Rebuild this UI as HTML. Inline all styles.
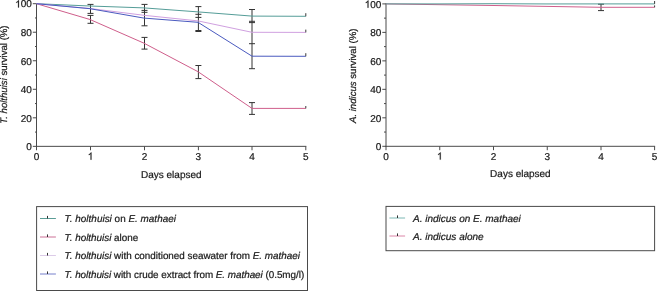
<!DOCTYPE html>
<html><head><meta charset="utf-8"><style>
html,body{margin:0;padding:0;background:#fff;width:657px;height:291px;overflow:hidden}
svg{display:block;will-change:transform}
text{text-rendering:geometricPrecision;stroke:#1a1a1a;stroke-width:0.22px}
.t{font-size:10px;font-family:'Liberation Sans',sans-serif;fill:#1a1a1a}
.ty{font-size:9.6px;font-family:'Liberation Sans',sans-serif;fill:#1a1a1a}
.tl{font-size:9.87px;font-family:'Liberation Sans',sans-serif;fill:#1a1a1a}
</style></head><body>
<svg width="657" height="291" viewBox="0 0 657 291">
<rect width="657" height="291" fill="#fff"/>
<line x1="36.5" y1="3.2" x2="36.5" y2="146.85" stroke="#4a4a4a" stroke-width="1"/>
<line x1="36.0" y1="146.35" x2="306.30" y2="146.35" stroke="#4a4a4a" stroke-width="1"/>
<line x1="32.80" y1="3.70" x2="36.5" y2="3.70" stroke="#4a4a4a" stroke-width="1"/>
<line x1="35" y1="17.96" x2="36.5" y2="17.96" stroke="#4a4a4a" stroke-width="1"/>
<path d="M763 0H583V1147Q518 1085 412 1023Q306 961 222 930V1104Q373 1175 486 1276Q599 1377 646 1472H763Z" transform="translate(15.22,7.45) scale(0.004883,-0.004883)" fill="#1a1a1a" stroke="#1a1a1a" stroke-width="0.22" vector-effect="non-scaling-stroke"/><text x="20.78" y="7.45" class="t">0</text><text x="26.34" y="7.45" class="t">0</text>
<line x1="32.80" y1="32.23" x2="36.5" y2="32.23" stroke="#4a4a4a" stroke-width="1"/>
<line x1="35" y1="46.50" x2="36.5" y2="46.50" stroke="#4a4a4a" stroke-width="1"/>
<text x="20.78" y="35.98" class="t">8</text><text x="26.34" y="35.98" class="t">0</text>
<line x1="32.80" y1="60.76" x2="36.5" y2="60.76" stroke="#4a4a4a" stroke-width="1"/>
<line x1="35" y1="75.03" x2="36.5" y2="75.03" stroke="#4a4a4a" stroke-width="1"/>
<text x="20.78" y="64.51" class="t">6</text><text x="26.34" y="64.51" class="t">0</text>
<line x1="32.80" y1="89.29" x2="36.5" y2="89.29" stroke="#4a4a4a" stroke-width="1"/>
<line x1="35" y1="103.56" x2="36.5" y2="103.56" stroke="#4a4a4a" stroke-width="1"/>
<text x="20.78" y="93.04" class="t">4</text><text x="26.34" y="93.04" class="t">0</text>
<line x1="32.80" y1="117.82" x2="36.5" y2="117.82" stroke="#4a4a4a" stroke-width="1"/>
<line x1="35" y1="132.09" x2="36.5" y2="132.09" stroke="#4a4a4a" stroke-width="1"/>
<text x="20.78" y="121.57" class="t">2</text><text x="26.34" y="121.57" class="t">0</text>
<line x1="32.80" y1="146.35" x2="36.5" y2="146.35" stroke="#4a4a4a" stroke-width="1"/>
<text x="26.34" y="150.10" class="t">0</text>
<line x1="36.50" y1="146.35" x2="36.50" y2="150.25" stroke="#4a4a4a" stroke-width="1"/>
<text x="33.72" y="159.65" class="t">0</text>
<line x1="90.50" y1="146.35" x2="90.50" y2="150.25" stroke="#4a4a4a" stroke-width="1"/>
<path d="M763 0H583V1147Q518 1085 412 1023Q306 961 222 930V1104Q373 1175 486 1276Q599 1377 646 1472H763Z" transform="translate(87.72,159.65) scale(0.004883,-0.004883)" fill="#1a1a1a" stroke="#1a1a1a" stroke-width="0.22" vector-effect="non-scaling-stroke"/>
<line x1="144.50" y1="146.35" x2="144.50" y2="150.25" stroke="#4a4a4a" stroke-width="1"/>
<text x="141.72" y="159.65" class="t">2</text>
<line x1="198.40" y1="146.35" x2="198.40" y2="150.25" stroke="#4a4a4a" stroke-width="1"/>
<text x="195.62" y="159.65" class="t">3</text>
<line x1="252.00" y1="146.35" x2="252.00" y2="150.25" stroke="#4a4a4a" stroke-width="1"/>
<text x="249.22" y="159.65" class="t">4</text>
<line x1="305.80" y1="146.35" x2="305.80" y2="150.25" stroke="#4a4a4a" stroke-width="1"/>
<text x="303.02" y="159.65" class="t">5</text>
<text x="171.30" y="178.3" text-anchor="middle" class="t">Days elapsed</text>
<text transform="translate(7.2,74.6) rotate(-90)" text-anchor="middle" class="ty"><tspan font-style="italic">T. holthuisi</tspan> survival (%)</text>
<line x1="90.50" y1="4.4" x2="90.50" y2="13.4" stroke="#333333" stroke-width="1"/>
<line x1="87.50" y1="4.4" x2="93.50" y2="4.4" stroke="#333333" stroke-width="1"/>
<line x1="87.50" y1="13.4" x2="93.50" y2="13.4" stroke="#333333" stroke-width="1"/>
<line x1="90.50" y1="15.4" x2="90.50" y2="23.3" stroke="#333333" stroke-width="1"/>
<line x1="87.50" y1="15.4" x2="93.50" y2="15.4" stroke="#333333" stroke-width="1"/>
<line x1="87.50" y1="23.3" x2="93.50" y2="23.3" stroke="#333333" stroke-width="1"/>
<line x1="144.50" y1="4.4" x2="144.50" y2="25.8" stroke="#333333" stroke-width="1"/>
<line x1="141.50" y1="4.4" x2="147.50" y2="4.4" stroke="#333333" stroke-width="1"/>
<line x1="141.50" y1="10.4" x2="147.50" y2="10.4" stroke="#333333" stroke-width="1"/>
<line x1="141.50" y1="12.3" x2="147.50" y2="12.3" stroke="#333333" stroke-width="1"/>
<line x1="141.50" y1="25.8" x2="147.50" y2="25.8" stroke="#333333" stroke-width="1"/>
<line x1="144.50" y1="37.4" x2="144.50" y2="49.1" stroke="#333333" stroke-width="1"/>
<line x1="141.50" y1="37.4" x2="147.50" y2="37.4" stroke="#333333" stroke-width="1"/>
<line x1="141.50" y1="49.1" x2="147.50" y2="49.1" stroke="#333333" stroke-width="1"/>
<line x1="198.40" y1="6.6" x2="198.40" y2="31.2" stroke="#333333" stroke-width="1"/>
<line x1="195.40" y1="6.6" x2="201.40" y2="6.6" stroke="#333333" stroke-width="1"/>
<line x1="195.40" y1="14.3" x2="201.40" y2="14.3" stroke="#333333" stroke-width="1"/>
<line x1="195.40" y1="17.4" x2="201.40" y2="17.4" stroke="#333333" stroke-width="1"/>
<line x1="195.40" y1="30.5" x2="201.40" y2="30.5" stroke="#333333" stroke-width="1"/>
<line x1="195.40" y1="31.5" x2="201.40" y2="31.5" stroke="#333333" stroke-width="1"/>
<line x1="198.40" y1="65.5" x2="198.40" y2="78.6" stroke="#333333" stroke-width="1"/>
<line x1="195.40" y1="65.5" x2="201.40" y2="65.5" stroke="#333333" stroke-width="1"/>
<line x1="195.40" y1="78.6" x2="201.40" y2="78.6" stroke="#333333" stroke-width="1"/>
<line x1="252.00" y1="9.5" x2="252.00" y2="68.7" stroke="#333333" stroke-width="1"/>
<line x1="249.00" y1="9.5" x2="255.00" y2="9.5" stroke="#333333" stroke-width="1"/>
<line x1="249.00" y1="21.3" x2="255.00" y2="21.3" stroke="#333333" stroke-width="1"/>
<line x1="249.00" y1="22.6" x2="255.00" y2="22.6" stroke="#333333" stroke-width="1"/>
<line x1="249.00" y1="43.7" x2="255.00" y2="43.7" stroke="#333333" stroke-width="1"/>
<line x1="249.00" y1="68.7" x2="255.00" y2="68.7" stroke="#333333" stroke-width="1"/>
<line x1="252.00" y1="102.6" x2="252.00" y2="114.4" stroke="#333333" stroke-width="1"/>
<line x1="249.00" y1="102.6" x2="255.00" y2="102.6" stroke="#333333" stroke-width="1"/>
<line x1="249.00" y1="114.4" x2="255.00" y2="114.4" stroke="#333333" stroke-width="1"/>
<polyline points="36.50,3.70 90.00,6.00 144.00,7.90 198.00,11.90 252.00,16.10 305.80,16.30" fill="none" stroke="#559d98" stroke-width="1"/>
<polyline points="36.50,3.70 90.00,19.50 144.00,43.20 198.00,71.70 252.00,108.40 305.80,108.40" fill="none" stroke="#cf5e8b" stroke-width="1"/>
<polyline points="36.50,3.70 90.00,8.50 144.00,15.30 198.00,20.90 252.00,32.30 305.80,32.40" fill="none" stroke="#d0a0e0" stroke-width="1"/>
<polyline points="36.50,3.70 90.00,8.70 144.00,18.10 198.00,22.30 252.00,56.20 305.80,56.30" fill="none" stroke="#4a5abf" stroke-width="1"/>
<line x1="305.80" y1="13.2" x2="305.80" y2="16.3" stroke="#3a3a3a" stroke-width="1"/>
<line x1="305.80" y1="29.6" x2="305.80" y2="32.4" stroke="#3a3a3a" stroke-width="1"/>
<line x1="305.80" y1="53.2" x2="305.80" y2="56.3" stroke="#3a3a3a" stroke-width="1"/>
<line x1="305.80" y1="106.0" x2="305.80" y2="108.4" stroke="#3a3a3a" stroke-width="1"/>
<line x1="386.0" y1="3.4" x2="386.0" y2="146.8" stroke="#4a4a4a" stroke-width="1"/>
<line x1="385.5" y1="146.30" x2="655.10" y2="146.30" stroke="#4a4a4a" stroke-width="1"/>
<line x1="382.30" y1="3.90" x2="386.0" y2="3.90" stroke="#4a4a4a" stroke-width="1"/>
<line x1="384" y1="18.14" x2="386.0" y2="18.14" stroke="#4a4a4a" stroke-width="1"/>
<path d="M763 0H583V1147Q518 1085 412 1023Q306 961 222 930V1104Q373 1175 486 1276Q599 1377 646 1472H763Z" transform="translate(364.72,7.65) scale(0.004883,-0.004883)" fill="#1a1a1a" stroke="#1a1a1a" stroke-width="0.22" vector-effect="non-scaling-stroke"/><text x="370.28" y="7.65" class="t">0</text><text x="375.84" y="7.65" class="t">0</text>
<line x1="382.30" y1="32.38" x2="386.0" y2="32.38" stroke="#4a4a4a" stroke-width="1"/>
<line x1="384" y1="46.62" x2="386.0" y2="46.62" stroke="#4a4a4a" stroke-width="1"/>
<text x="370.28" y="36.13" class="t">8</text><text x="375.84" y="36.13" class="t">0</text>
<line x1="382.30" y1="60.86" x2="386.0" y2="60.86" stroke="#4a4a4a" stroke-width="1"/>
<line x1="384" y1="75.10" x2="386.0" y2="75.10" stroke="#4a4a4a" stroke-width="1"/>
<text x="370.28" y="64.61" class="t">6</text><text x="375.84" y="64.61" class="t">0</text>
<line x1="382.30" y1="89.34" x2="386.0" y2="89.34" stroke="#4a4a4a" stroke-width="1"/>
<line x1="384" y1="103.58" x2="386.0" y2="103.58" stroke="#4a4a4a" stroke-width="1"/>
<text x="370.28" y="93.09" class="t">4</text><text x="375.84" y="93.09" class="t">0</text>
<line x1="382.30" y1="117.82" x2="386.0" y2="117.82" stroke="#4a4a4a" stroke-width="1"/>
<line x1="384" y1="132.06" x2="386.0" y2="132.06" stroke="#4a4a4a" stroke-width="1"/>
<text x="370.28" y="121.57" class="t">2</text><text x="375.84" y="121.57" class="t">0</text>
<line x1="382.30" y1="146.30" x2="386.0" y2="146.30" stroke="#4a4a4a" stroke-width="1"/>
<text x="375.84" y="150.05" class="t">0</text>
<line x1="386.00" y1="146.30" x2="386.00" y2="150.20" stroke="#4a4a4a" stroke-width="1"/>
<text x="383.22" y="159.60" class="t">0</text>
<line x1="439.75" y1="146.30" x2="439.75" y2="150.20" stroke="#4a4a4a" stroke-width="1"/>
<path d="M763 0H583V1147Q518 1085 412 1023Q306 961 222 930V1104Q373 1175 486 1276Q599 1377 646 1472H763Z" transform="translate(436.97,159.60) scale(0.004883,-0.004883)" fill="#1a1a1a" stroke="#1a1a1a" stroke-width="0.22" vector-effect="non-scaling-stroke"/>
<line x1="493.50" y1="146.30" x2="493.50" y2="150.20" stroke="#4a4a4a" stroke-width="1"/>
<text x="490.72" y="159.60" class="t">2</text>
<line x1="547.25" y1="146.30" x2="547.25" y2="150.20" stroke="#4a4a4a" stroke-width="1"/>
<text x="544.47" y="159.60" class="t">3</text>
<line x1="601.00" y1="146.30" x2="601.00" y2="150.20" stroke="#4a4a4a" stroke-width="1"/>
<text x="598.22" y="159.60" class="t">4</text>
<line x1="654.60" y1="146.30" x2="654.60" y2="150.20" stroke="#4a4a4a" stroke-width="1"/>
<text x="651.82" y="159.60" class="t">5</text>
<text x="520.40" y="176.8" text-anchor="middle" class="t">Days elapsed</text>
<text transform="translate(356.2,75.8) rotate(-90)" text-anchor="middle" class="ty"><tspan font-style="italic">A. indicus</tspan> survival (%)</text>
<line x1="601.00" y1="4.2" x2="601.00" y2="10.6" stroke="#333333" stroke-width="1"/>
<line x1="598.00" y1="4.2" x2="604.00" y2="4.2" stroke="#333333" stroke-width="1"/>
<line x1="598.00" y1="10.6" x2="604.00" y2="10.6" stroke="#333333" stroke-width="1"/>
<polyline points="386.00,3.90 440.00,4.70 494.00,5.50 547.00,6.40 601.00,7.30 654.60,7.30" fill="none" stroke="#cf5e8b" stroke-width="1"/>
<polyline points="386.00,3.90 440.00,3.90 494.00,3.70 547.00,3.95 601.00,3.90 654.60,3.90" fill="none" stroke="#559d98" stroke-width="1"/>
<line x1="654.60" y1="1.0" x2="654.60" y2="3.9" stroke="#3a3a3a" stroke-width="1"/>
<line x1="654.60" y1="5.4" x2="654.60" y2="7.3" stroke="#3a3a3a" stroke-width="1"/>
<rect x="36.6" y="206.6" width="270.9" height="83.9" fill="none" stroke="#4a4a4a" stroke-width="1"/>
<line x1="40.0" y1="218.50" x2="55.9" y2="218.50" stroke="#5a9d96" stroke-width="1"/>
<line x1="47.50" y1="215.90" x2="47.50" y2="218.50" stroke="#333333" stroke-width="1"/>
<text x="64.6" y="222.00" class="tl" textLength="111.3" lengthAdjust="spacing"><tspan font-style="italic">T. holthuisi</tspan> on <tspan font-style="italic">E. mathaei</tspan></text>
<line x1="40.0" y1="237.00" x2="55.9" y2="237.00" stroke="#cc7196" stroke-width="1"/>
<line x1="47.50" y1="234.40" x2="47.50" y2="237.00" stroke="#333333" stroke-width="1"/>
<text x="64.6" y="240.50" class="tl"><tspan font-style="italic">T. holthuisi</tspan> alone</text>
<line x1="40.0" y1="255.50" x2="55.9" y2="255.50" stroke="#dccbe8" stroke-width="1"/>
<line x1="47.50" y1="252.90" x2="47.50" y2="255.50" stroke="#333333" stroke-width="1"/>
<text x="64.6" y="259.00" class="tl"><tspan font-style="italic">T. holthuisi</tspan> with conditioned seawater from <tspan font-style="italic">E. mathaei</tspan></text>
<line x1="40.0" y1="274.00" x2="55.9" y2="274.00" stroke="#7680cc" stroke-width="1"/>
<line x1="47.50" y1="271.40" x2="47.50" y2="274.00" stroke="#333333" stroke-width="1"/>
<text x="64.6" y="277.50" class="tl" textLength="239.6" lengthAdjust="spacing"><tspan font-style="italic">T. holthuisi</tspan> with crude extract from <tspan font-style="italic">E. mathaei</tspan> (0.5mg/l)</text>
<rect x="386.0" y="206.4" width="268.6" height="44.3" fill="none" stroke="#4a4a4a" stroke-width="1"/>
<line x1="389.4" y1="218.00" x2="405.1" y2="218.00" stroke="#7db8b4" stroke-width="1"/>
<line x1="397.50" y1="215.40" x2="397.50" y2="218.00" stroke="#333333" stroke-width="1"/>
<text x="413.0" y="221.50" class="t"><tspan font-style="italic">A. indicus on E. mathaei</tspan></text>
<line x1="389.4" y1="236.00" x2="405.1" y2="236.00" stroke="#dc86a8" stroke-width="1"/>
<line x1="397.50" y1="233.40" x2="397.50" y2="236.00" stroke="#333333" stroke-width="1"/>
<text x="413.0" y="239.50" class="t"><tspan font-style="italic">A. indicus alone</tspan></text>
</svg>
</body></html>
